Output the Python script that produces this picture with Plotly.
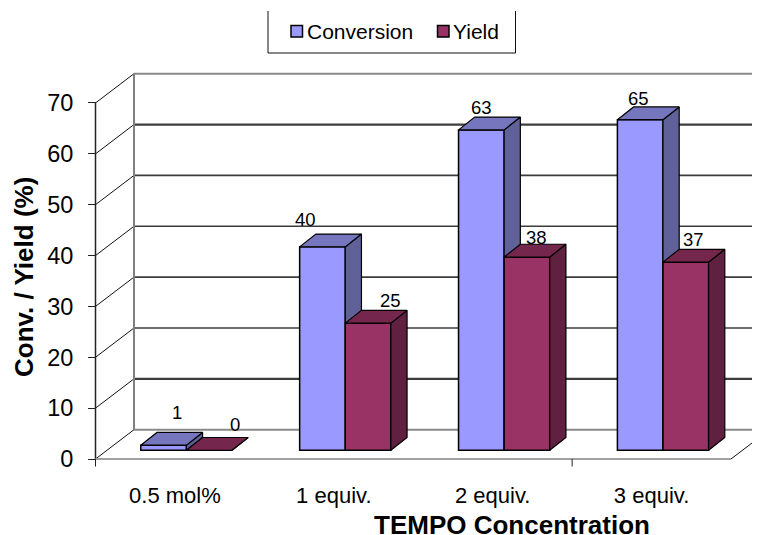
import plotly.graph_objects as go

# ---- data ----
categories = ["0.5 mol%", "1 equiv.", "2 equiv.", "3 equiv."]
conversion = [1, 40, 63, 65]
yield_vals = [0, 25, 38, 37]
y_ticks = [0, 10, 20, 30, 40, 50, 60, 70]

# ---- geometry of the oblique view ----
PAGE = 8                          # default body margin of the page
W, H = 760 - PAGE, 535 - PAGE
PX_CAT, PX_VAL = 158.875, 5.086   # pixels per category / per value unit
X0_PX, Y0_PX = 95.5 - PAGE, 459.0 - PAGE   # where (0, 0) of the front wall sits
WALL_DX, WALL_DY = 38.5 / PX_CAT, 29.3 / PX_VAL
BAR_DX, BAR_DY = 16.2 / PX_CAT, 12.8 / PX_VAL
LIFT = 8.7 / PX_VAL
BAR_W = 45.6 / PX_CAT
GROUP_SHIFT = 0.072
N = len(categories)
X_END = (W + 12 - X0_PX) / PX_CAT

FONT = "Liberation Sans, Arial, sans-serif"
CONV_FRONT, CONV_TOP, CONV_SIDE = "#9999FF", "#7676BE", "#616199"
YLD_FRONT, YLD_TOP, YLD_SIDE = "#993366", "#75264C", "#602040"
EDGE = "#000000"


def pxx(v):
    return (v - PAGE) / W


def pxy(v):
    return 1 - (v - PAGE) / H


x_conv = [i + 0.5 + GROUP_SHIFT - BAR_W / 2 for i in range(N)]
x_yld = [i + 0.5 + GROUP_SHIFT + BAR_W / 2 for i in range(N)]
top = lambda v: LIFT + v

fig = go.Figure()
fig.add_bar(x=x_conv, y=conversion, base=LIFT, width=BAR_W, name="Conversion",
            marker=dict(color=CONV_FRONT, line=dict(color=EDGE, width=1.5)))
fig.add_bar(x=x_yld, y=yield_vals, base=LIFT, width=BAR_W, name="Yield",
            marker=dict(color=YLD_FRONT, line=dict(color=EDGE, width=1.5)))


def polys(shapes, color):
    xs, ys = [], []
    for pts in shapes:
        xs += [p[0] for p in pts] + [pts[0][0], None]
        ys += [p[1] for p in pts] + [pts[0][1], None]
    fig.add_scatter(x=xs, y=ys, mode="lines", fill="toself", fillcolor=color,
                    line=dict(color=EDGE, width=1.2), showlegend=False, hoverinfo="skip")


def top_face(xc, v):
    l, r = xc - BAR_W / 2, xc + BAR_W / 2
    return [(l, top(v)), (r, top(v)), (r + BAR_DX, top(v) + BAR_DY), (l + BAR_DX, top(v) + BAR_DY)]


def side_face(xc, v, floor):
    r = xc + BAR_W / 2
    return [(r, floor), (r + BAR_DX, floor + BAR_DY if floor == LIFT else floor),
            (r + BAR_DX, top(v) + BAR_DY), (r, top(v))]


polys([side_face(x, c, top(y)) for x, c, y in zip(x_conv, conversion, yield_vals)], CONV_SIDE)
polys([top_face(x, c) for x, c in zip(x_conv, conversion)], CONV_TOP)
polys([side_face(x, y, LIFT) for x, y in zip(x_yld, yield_vals)], YLD_SIDE)
polys([top_face(x, y) for x, y in zip(x_yld, yield_vals)], YLD_TOP)

# ---- walls, floor and grid ----
shapes = []


def seg(x0, y0, x1, y1, color, width):
    shapes.append(dict(type="line", xref="x", yref="y", x0=x0, y0=y0, x1=x1, y1=y1,
                       layer="below", line=dict(color=color, width=width)))


for t in y_ticks:
    strong = t in (10, 60)
    if t in (0, 70):
        c, w = "#8a8a8a", 2
    else:
        c, w = "#3c3c3c", 2.2 if strong else 1.6
    seg(WALL_DX, t + WALL_DY, X_END, t + WALL_DY, c, w)
    seg(0, t, WALL_DX, t + WALL_DY, "#111111", 1)
seg(WALL_DX, WALL_DY, WALL_DX, 70 + WALL_DY, "#808080", 2)
seg(0, 0, 0, 70, "#222222", 1.5)
seg(0, 0, N, 0, "#a0a0a0", 2)
seg(N, 0, N + WALL_DX, WALL_DY, "#111111", 1)
for tx in (0, 3):
    seg(tx, 0, tx, -7.5 / PX_VAL, "#222222", 1)

# legend (box open at the top; the source clips its top edge)
for x0, y0, x1, y1 in [(268, 11, 268, 53), (268, 53, 515.5, 53), (515.5, 11, 515.5, 53)]:
    shapes.append(dict(type="line", xref="paper", yref="paper", x0=pxx(x0), x1=pxx(x1),
                       y0=pxy(y0), y1=pxy(y1), line=dict(color="#111111", width=1)))
annotations = []
for name, color, sx, tx in [("Conversion", CONV_FRONT, 291, 307), ("Yield", YLD_FRONT, 437.5, 452.5)]:
    shapes.append(dict(type="rect", xref="paper", yref="paper", x0=pxx(sx), x1=pxx(sx + 11.5),
                       y0=pxy(25.5), y1=pxy(37), fillcolor=color, line=dict(color="#000", width=1.5)))
    annotations.append(dict(x=pxx(tx), y=pxy(31), xref="paper", yref="paper", text=name,
                            xanchor="left", yanchor="middle", xshift=-2, showarrow=False,
                            font=dict(family=FONT, size=21, color="#000")))

# ---- value labels ----
conv_shift = [(13.5, 33), (-17, 27.7), (0, 22), (-2, 21.4)]
yld_shift = [(26, 26), (22, 23), (10, 19.5), (8, 23)]
for xs, vals, sh in [(x_conv, conversion, conv_shift), (x_yld, yield_vals, yld_shift)]:
    for x, v, (dx, dy) in zip(xs, vals, sh):
        annotations.append(dict(x=x, y=top(v), xref="x", yref="y", text=str(v), showarrow=False,
                                xanchor="center", yanchor="middle", xshift=dx, yshift=dy,
                                font=dict(family=FONT, size=18.5, color="#000")))
annotations.append(dict(x=pxx(24), y=pxy(277), xref="paper", yref="paper", text="<b>Conv. / Yield (%)</b>",
                        xanchor="center", yanchor="middle",
                        textangle=-90, showarrow=False, font=dict(family=FONT, size=26, color="#000")))
annotations.append(dict(x=pxx(511.5), y=pxy(525), xref="paper", yref="paper", text="<b>TEMPO Concentration</b>",
                        xanchor="center", yanchor="middle",
                        showarrow=False, font=dict(family=FONT, size=26, color="#000")))

fig.update_layout(
    width=W, height=H, margin=dict(l=0, r=0, t=0, b=0),
    paper_bgcolor="white", plot_bgcolor="white", barmode="overlay", showlegend=False,
    font=dict(family=FONT, color="#000"),
    shapes=shapes, annotations=annotations,
    xaxis=dict(domain=[0, 1], range=[-X0_PX / PX_CAT, (W - X0_PX) / PX_CAT],
               anchor="free", position=1 - Y0_PX / H,
               tickvals=[i + 0.5 for i in range(N)], ticktext=categories,
               ticks="", showgrid=False, zeroline=False, showline=False,
               ticklabelstandoff=21, tickfont=dict(family=FONT, size=22, color="#000")),
    yaxis=dict(domain=[0, 1], range=[(Y0_PX - H) / PX_VAL, Y0_PX / PX_VAL],
               anchor="free", position=X0_PX / W,
               tickvals=y_ticks, ticks="outside", ticklen=7.5, tickcolor="#222", tickwidth=1,
               showline=False, showgrid=False, zeroline=False, ticklabelstandoff=10,
               tickfont=dict(family=FONT, size=23.5, color="#000")),
)

fig.write_html("out.html")
